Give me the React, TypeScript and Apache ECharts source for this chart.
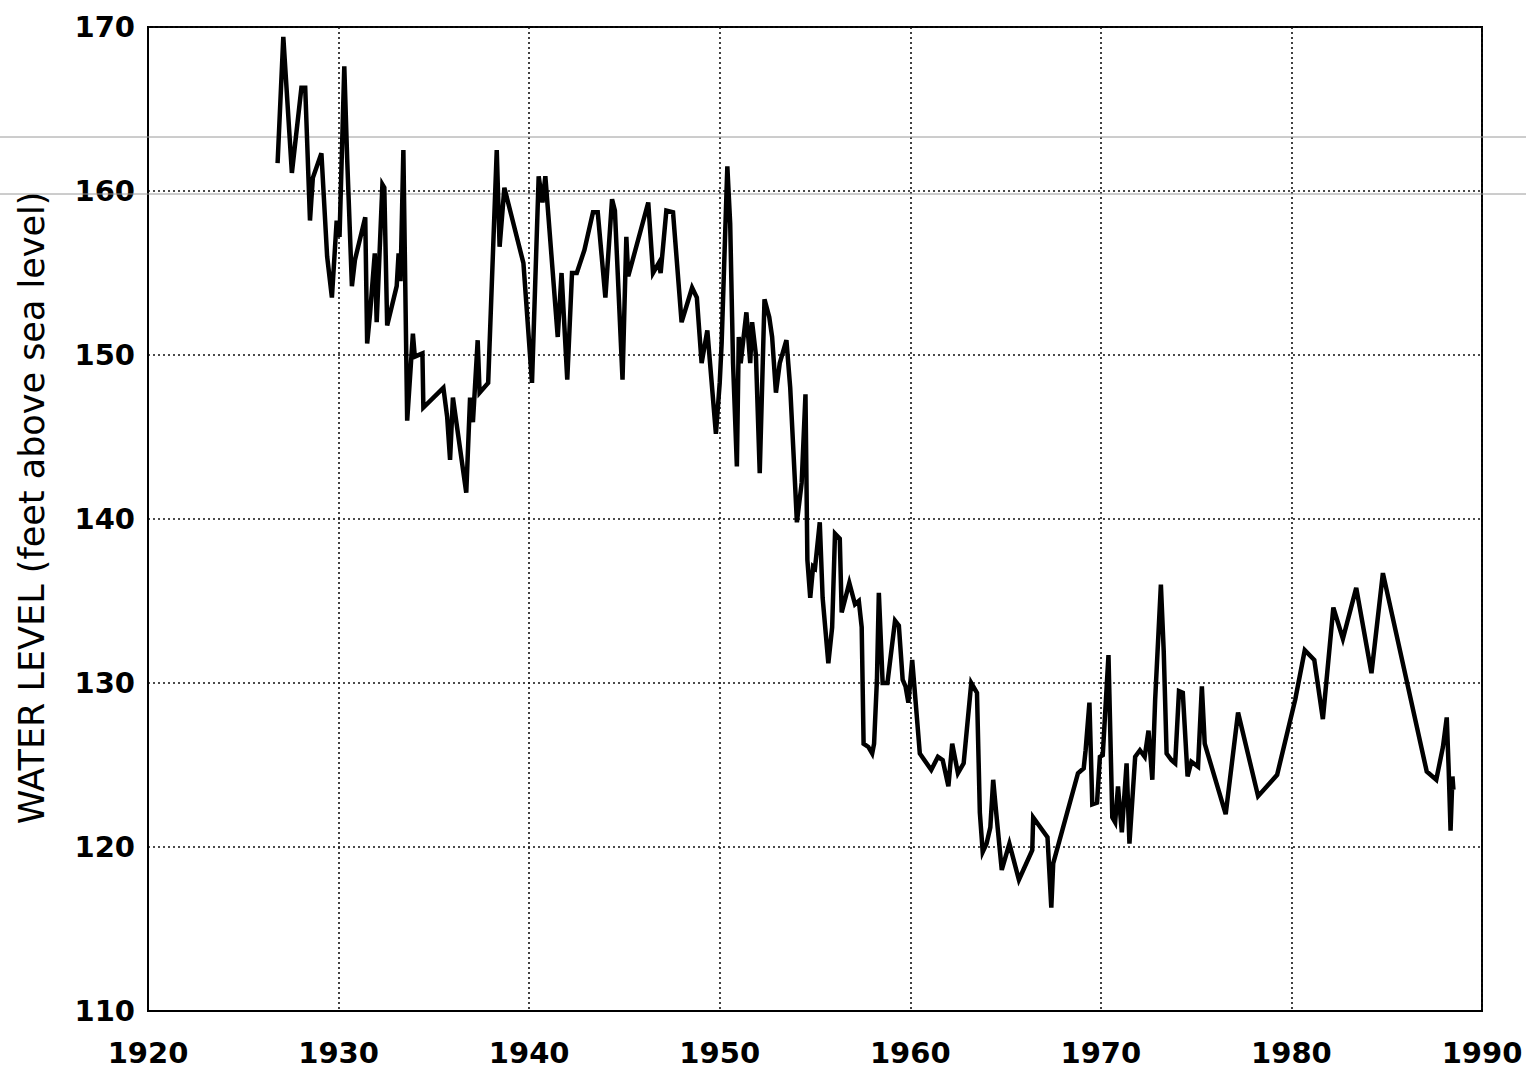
import React, { useEffect, useRef } from "react";
import * as echarts from "echarts";

const years: number[] = [
  1926.8, 1927.1, 1927.55, 1928.05, 1928.25, 1928.5, 1928.65, 1929.1, 1929.4, 1929.65,
  1929.9, 1930.05, 1930.3, 1930.45, 1930.7, 1930.86, 1931.4, 1931.5, 1931.65, 1931.9,
  1932.0, 1932.3, 1932.4, 1932.55, 1933.05, 1933.15, 1933.25, 1933.4, 1933.6, 1933.9,
  1934.0, 1934.4, 1934.45, 1935.5, 1935.7, 1935.85, 1936.0, 1936.7, 1936.9, 1937.05,
  1937.3, 1937.4, 1937.85, 1938.3, 1938.45, 1938.7, 1939.7, 1940.15, 1940.5, 1940.7,
  1940.85, 1941.5, 1941.7, 1942.0, 1942.25, 1942.5, 1942.9, 1943.35, 1943.6, 1944.0,
  1944.35, 1944.5, 1944.9, 1945.1, 1945.2, 1946.25, 1946.5, 1946.8, 1946.9, 1947.2,
  1947.55, 1948.0, 1948.55, 1948.8, 1949.05, 1949.35, 1949.8, 1950.0, 1950.1, 1950.4,
  1950.55, 1950.65, 1950.7, 1950.9, 1951.0, 1951.1, 1951.4, 1951.6, 1951.7, 1951.9,
  1952.1, 1952.35, 1952.6, 1952.75, 1952.95, 1953.15, 1953.5, 1953.7, 1953.95, 1954.05,
  1954.3, 1954.5, 1954.6, 1954.75, 1954.9, 1955.0, 1955.25, 1955.4, 1955.7, 1955.9,
  1956.05, 1956.3, 1956.4, 1956.8, 1957.1, 1957.3, 1957.45, 1957.55, 1957.8, 1958.0,
  1958.1, 1958.25, 1958.35, 1958.55, 1958.8, 1959.2, 1959.4, 1959.6, 1959.75, 1959.9,
  1960.1, 1960.2, 1960.5, 1961.1, 1961.45, 1961.7, 1962.0, 1962.2, 1962.4, 1962.5,
  1962.8, 1963.2, 1963.5, 1963.65, 1963.8, 1964.0, 1964.2, 1964.35, 1964.5, 1964.8,
  1965.2, 1965.7, 1966.4, 1966.45, 1967.2, 1967.4, 1967.5, 1968.8, 1969.1, 1969.2,
  1969.4, 1969.55, 1969.8, 1969.95, 1970.1, 1970.4, 1970.6, 1970.75, 1970.9, 1971.1,
  1971.35, 1971.5, 1971.8, 1972.05, 1972.3, 1972.5, 1972.7, 1972.85, 1973.15, 1973.3,
  1973.45, 1973.7, 1973.9, 1974.1, 1974.3, 1974.55, 1974.75, 1975.1, 1975.3, 1975.45,
  1976.55, 1977.2, 1978.25, 1979.25, 1980.2, 1980.7, 1981.2, 1981.65, 1982.2, 1982.7,
  1983.4, 1984.2, 1984.8, 1987.1, 1987.6, 1987.95, 1988.15, 1988.25, 1988.35, 1988.45,
  1988.5,
];

const waterLevel: number[] = [
  161.7, 169.4, 161.1, 166.3, 166.3, 158.2, 160.8, 162.3, 156.0, 153.5,
  158.2, 157.2, 167.6, 162.0, 154.2, 155.8, 158.4, 150.7, 152.5, 156.2,
  152.0, 160.4, 160.2, 151.8, 154.2, 156.2, 154.5, 162.5, 146.0, 151.3,
  149.9, 150.1, 146.8, 148.0, 146.2, 143.6, 147.4, 141.6, 147.4, 145.9,
  150.9, 147.7, 148.3, 162.5, 156.6, 160.2, 155.6, 148.3, 160.9, 159.3,
  160.9, 151.1, 155.0, 148.5, 155.0, 155.0, 156.4, 158.7, 158.7, 153.5,
  159.5, 158.8, 148.5, 157.2, 154.8, 159.3, 155.0, 155.6, 155.0, 158.8,
  158.7, 152.0, 154.1, 153.5, 149.5, 151.5, 145.2, 148.3, 150.7, 161.5,
  158.0, 152.3, 149.5, 143.2, 151.1, 149.5, 152.6, 149.5, 152.0, 150.0,
  142.8, 153.4, 152.3, 151.1, 147.7, 149.5, 150.9, 148.0, 142.2, 139.8,
  142.2, 147.6, 137.5, 135.2, 137.1, 137.0, 139.8, 135.2, 131.2, 133.4,
  139.1, 138.8, 134.3, 136.1, 134.8, 135.0, 133.4, 126.3, 126.1, 125.7,
  126.3, 130.2, 135.5, 130.0, 130.0, 133.8, 133.5, 130.2, 129.8, 128.8,
  131.4, 130.0, 125.7, 124.7, 125.5, 125.3, 123.7, 126.3, 125.1, 124.5,
  125.1, 130.0, 129.4, 122.1, 119.7, 120.2, 121.2, 124.1, 122.2, 118.6,
  120.2, 118.0, 119.8, 121.8, 120.6, 116.3, 119.0, 124.5, 124.8, 125.9,
  128.8, 122.6, 122.7, 125.5, 125.6, 131.7, 121.8, 121.5, 123.7, 120.9,
  125.1, 120.2, 125.5, 125.9, 125.5, 127.1, 124.1, 129.0, 136.0, 131.9,
  125.7, 125.3, 125.1, 129.5, 129.4, 124.3, 125.2, 124.9, 129.8, 126.3,
  122.0, 128.2, 123.1, 124.4, 129.0, 132.0, 131.4, 127.8, 134.6, 132.7,
  135.8, 130.6, 136.7, 124.6, 124.1, 126.1, 127.9, 124.8, 121.0, 124.3,
  123.5,
];

const xTicks = { min: 1920, max: 1990, interval: 10 };
const yTicks = { min: 110, max: 170, interval: 10 };
const yAxisTitle = "WATER LEVEL (feet above sea level)";

export default function App() {
  const ref = useRef<HTMLDivElement>(null);

  useEffect(() => {
    if (!ref.current) return;
    const chart = echarts.init(ref.current, null, { renderer: "svg" });
    const data = years.map((y, i) => [y, waterLevel[i]]);
    const gridLine = {
      show: true,
      lineStyle: { color: "#111", width: 1.6, type: [2, 3] as any },
    };
    chart.setOption({
      animation: false,
      backgroundColor: "#ffffff",
      grid: {
        left: 148,
        right: 44,
        top: 27,
        bottom: 57,
        show: true,
        borderColor: "#000",
        borderWidth: 2,
        backgroundColor: "transparent",
      },
      xAxis: {
        type: "value",
        min: xTicks.min,
        max: xTicks.max,
        interval: xTicks.interval,
        axisLine: { show: true, lineStyle: { color: "#000", width: 2 } },
        axisTick: { show: false },
        splitLine: gridLine,
        axisLabel: {
          color: "#000",
          fontFamily: "DejaVu Sans",
          fontWeight: "bold",
          fontSize: 29,
          lineHeight: 29,
          margin: 27,
          formatter: (v: number) => String(v),
        },
      },
      yAxis: {
        type: "value",
        min: yTicks.min,
        max: yTicks.max,
        interval: yTicks.interval,
        axisLine: { show: true, lineStyle: { color: "#000", width: 2 } },
        axisTick: { show: false },
        splitLine: gridLine,
        axisLabel: {
          color: "#000",
          fontFamily: "DejaVu Sans",
          fontWeight: "bold",
          fontSize: 29,
          lineHeight: 29,
          margin: 13,
        },
      },
      graphic: [
        {
          type: "line",
          z: 1,
          shape: { x1: 0, y1: 137, x2: 1526, y2: 137 },
          style: { stroke: "#9a9a9a", lineWidth: 1 },
        },
        {
          type: "line",
          z: 1,
          shape: { x1: 0, y1: 194, x2: 1526, y2: 194 },
          style: { stroke: "#9a9a9a", lineWidth: 1 },
        },
        {
          type: "text",
          x: 32,
          y: 508,
          rotation: Math.PI / 2,
          style: {
            text: yAxisTitle,
            fill: "#000",
            font: "normal 35px 'DejaVu Sans'",
            align: "center",
            verticalAlign: "middle",
          },
        },
      ],
      series: [
        {
          type: "line",
          data,
          showSymbol: false,
          symbol: "none",
          lineStyle: { color: "#000", width: 4.5, join: "miter" },
          z: 5,
        },
      ],
    });
    return () => chart.dispose();
  }, []);

  return (
    <div
      ref={ref}
      style={{ position: "absolute", left: 0, top: 0, width: 1526, height: 1068 }}
    />
  );
}
